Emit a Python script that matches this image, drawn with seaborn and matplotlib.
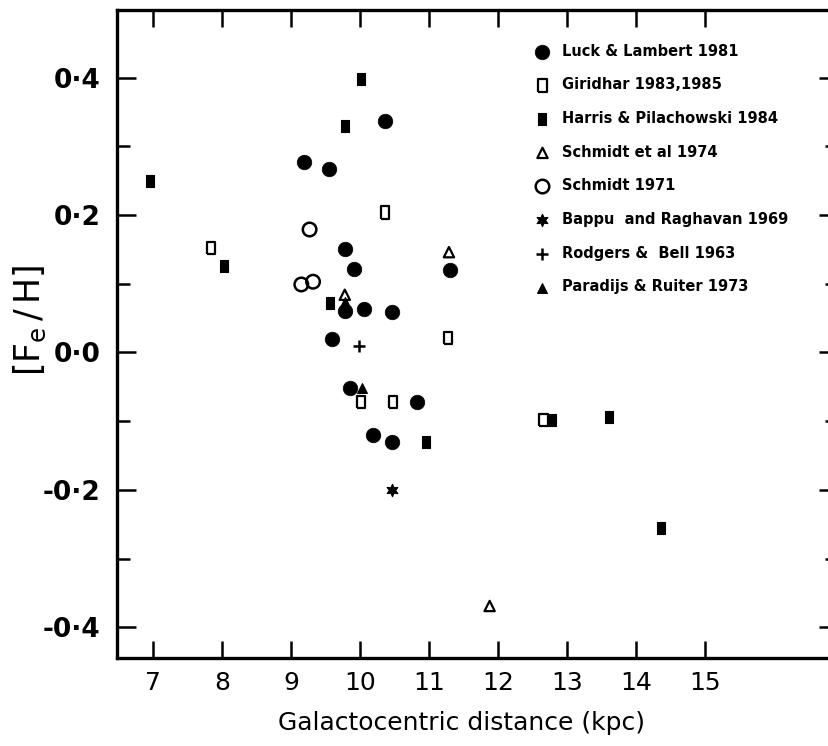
import numpy as np
import pandas as pd
import matplotlib
matplotlib.use("Agg")
import matplotlib.pyplot as plt
import seaborn as sns

# ---- data ----
luck_x = [10.36, 9.19, 9.55, 9.78, 9.92, 11.30, 9.78, 10.06, 10.46, 9.59, 9.85, 10.82, 10.19, 10.46]
luck_y = [0.337, 0.277, 0.267, 0.150, 0.121, 0.120, 0.061, 0.063, 0.059, 0.020, -0.051, -0.072, -0.120, -0.131]

giri_x = [10.36, 7.84, 11.28, 10.02, 10.48, 12.66]
giri_y = [0.204, 0.152, 0.021, -0.072, -0.072, -0.098]

harris_x = [10.01, 9.78, 6.96, 8.03, 9.56, 10.96, 12.79, 13.61, 14.36]
harris_y = [0.398, 0.330, 0.249, 0.126, 0.072, -0.130, -0.098, -0.094, -0.256]

schmidt74_x = [11.29, 9.78, 11.88]
schmidt74_y = [0.146, 0.084, -0.369]

schmidt71_x = [9.27, 9.15, 9.32]
schmidt71_y = [0.179, 0.099, 0.103]

bappu_x = [10.47]
bappu_y = [-0.200]

rodgers_x = [9.99]
rodgers_y = [0.010]

paradijs_x = [10.03, 9.78]
paradijs_y = [-0.052, 0.074]

labels = ["Luck & Lambert 1981", "Giridhar 1983,1985", "Harris & Pilachowski 1984",
          "Schmidt et al 1974", "Schmidt 1971", "Bappu  and Raghavan 1969",
          "Rodgers &  Bell 1963", "Paradijs & Ruiter 1973"]

x_ticks = [7, 8, 9, 10, 11, 12, 13, 14, 15]
y_major = [-0.4, -0.2, 0.0, 0.2, 0.4]
y_major_labels = ["-0\u00b74", "-0\u00b72", "0\u00b70", "0\u00b72", "0\u00b74"]
y_minor = [-0.3, -0.1, 0.1, 0.3]

# ---- styling ----
sns.set_style("ticks")
plt.rcParams["font.family"] = ["DejaVu Sans"]
plt.rcParams["text.color"] = "black"
plt.rcParams["axes.labelcolor"] = "black"
plt.rcParams["xtick.color"] = "black"
plt.rcParams["ytick.color"] = "black"

W, H = 829, 746
fig = plt.figure(figsize=(W / 100, H / 100), dpi=100)
left_px, right_px, top_px, bot_px = 117, 838, 10, 658
ax = fig.add_axes([left_px / W, (H - bot_px) / H, (right_px - left_px) / W, (bot_px - top_px) / H])

tall_rect = [(-0.33, -0.5), (0.33, -0.5), (0.33, 0.5), (-0.33, 0.5), (-0.33, -0.5)]
fill_rect = [(-0.34, -0.5), (0.34, -0.5), (0.34, 0.5), (-0.34, 0.5), (-0.34, -0.5)]

series = [
    (luck_x, luck_y, dict(marker="o", s=110, facecolor="black", edgecolor="black", linewidth=0.5)),
    (giri_x, giri_y, dict(marker=tall_rect, s=80, facecolor="none", edgecolor="black", linewidth=1.6)),
    (harris_x, harris_y, dict(marker=fill_rect, s=70, facecolor="black", edgecolor="black", linewidth=0.8)),
    (schmidt74_x, schmidt74_y, dict(marker="^", s=55, facecolor="none", edgecolor="black", linewidth=1.6)),
    (schmidt71_x, schmidt71_y, dict(marker="o", s=95, facecolor="none", edgecolor="black", linewidth=1.8)),
    (bappu_x, bappu_y, dict(marker=(6, 1, 0), s=80, facecolor="black", edgecolor="black", linewidth=0.8)),
    (rodgers_x, rodgers_y, dict(marker="+", s=70, color="black", linewidth=1.8)),
    (paradijs_x, paradijs_y, dict(marker="^", s=50, facecolor="black", edgecolor="black", linewidth=0.8)),
]

for (xs, ys, kw), lab in zip(series, labels):
    df = pd.DataFrame({"x": xs, "y": ys})
    sns.scatterplot(data=df, x="x", y="y", ax=ax, label=lab, zorder=3, **kw)

ax.set_xlim(6.478, 16.93)
ax.set_ylim(-0.4447, 0.4985)

ax.set_xticks(x_ticks)
ax.set_xticklabels([str(t) for t in x_ticks])
ax.set_yticks(y_major)
ax.set_yticklabels(y_major_labels)
ax.set_yticks(y_minor, minor=True)

for sp in ax.spines.values():
    sp.set_visible(True)
    sp.set_linewidth(2.4)
    sp.set_color("black")

ax.tick_params(axis="x", which="major", direction="in", length=12, width=1.8,
               top=True, bottom=True, labelsize=18, pad=9, colors="black")
ax.tick_params(axis="y", which="major", direction="in", length=14, width=1.8,
               left=True, right=True, labelsize=19, pad=12, colors="black")
ax.tick_params(axis="y", which="minor", direction="in", length=9.5, width=1.8,
               left=True, right=True, colors="black")
for lab in ax.get_yticklabels():
    lab.set_fontweight("bold")

ax.set_xlabel("Galactocentric distance (kpc)", fontsize=18, color="black")
ax.xaxis.set_label_coords(0.478, -0.082)
ax.set_ylabel(r"$\left[\mathrm{F_e\,/\,H}\right]$", fontsize=25, va="center", ha="center",
              color="black")
ax.yaxis.set_label_coords(-0.121, 0.522)

leg = ax.legend(loc="upper left", bbox_to_anchor=(0.578, 0.948), frameon=False,
                fontsize=10.5, handlelength=1.2, handletextpad=0.75, labelspacing=1.28,
                borderpad=0, borderaxespad=0, scatterpoints=1)
for t in leg.get_texts():
    t.set_fontweight("bold")
    t.set_color("black")

ax.grid(False)
fig.savefig("out.png", dpi=100)
